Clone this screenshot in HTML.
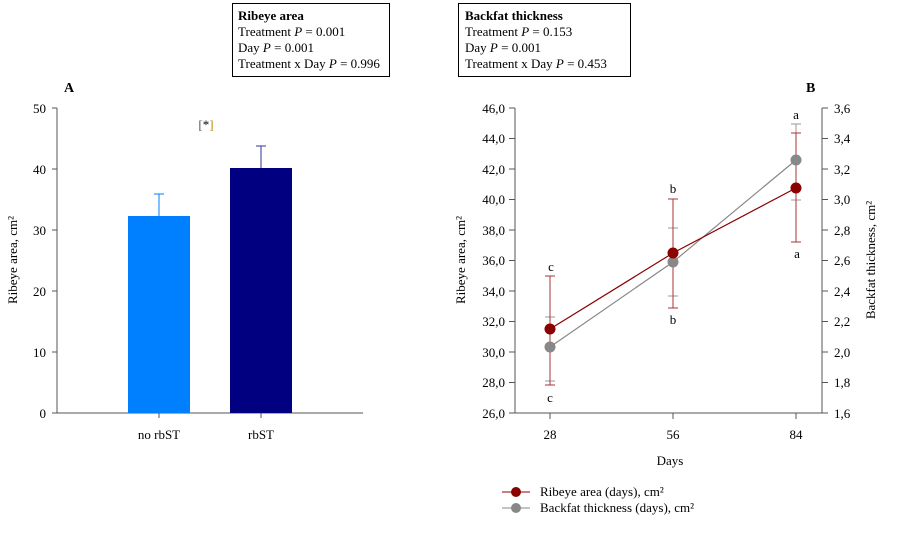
<!DOCTYPE html><html><head><style>body{margin:0;background:#fff}svg{font-family:"Liberation Serif",serif}</style></head><body>
<svg width="908" height="528" xmlns="http://www.w3.org/2000/svg">
<rect x="232.5" y="3.5" width="157" height="73" fill="#fff" stroke="#000"/>
<text x="238" y="20" font-size="13" font-weight="bold">Ribeye area</text>
<text x="238" y="36" font-size="13">Treatment <tspan font-style="italic">P</tspan> = 0.001</text>
<text x="238" y="52" font-size="13">Day <tspan font-style="italic">P</tspan> = 0.001</text>
<text x="238" y="68" font-size="13">Treatment x Day <tspan font-style="italic">P</tspan> = 0.996</text>
<rect x="458.5" y="3.5" width="172" height="73" fill="#fff" stroke="#000"/>
<text x="465" y="20" font-size="13" font-weight="bold">Backfat thickness</text>
<text x="465" y="36" font-size="13">Treatment <tspan font-style="italic">P</tspan> = 0.153</text>
<text x="465" y="52" font-size="13">Day <tspan font-style="italic">P</tspan> = 0.001</text>
<text x="465" y="68" font-size="13">Treatment x Day <tspan font-style="italic">P</tspan> = 0.453</text>
<text x="64" y="92" font-size="14" font-weight="bold">A</text>
<text x="806" y="92" font-size="14" font-weight="bold">B</text>
<!-- Chart A -->
<g stroke="#555" fill="none">
<line x1="57" y1="108" x2="57" y2="413"/><line x1="57" y1="413" x2="363" y2="413"/>
<line x1="52" y1="108" x2="57" y2="108"/><line x1="52" y1="169" x2="57" y2="169"/><line x1="52" y1="230" x2="57" y2="230"/><line x1="52" y1="291" x2="57" y2="291"/><line x1="52" y1="352" x2="57" y2="352"/><line x1="52" y1="413" x2="57" y2="413"/>
<line x1="159" y1="413" x2="159" y2="418"/><line x1="261" y1="413" x2="261" y2="418"/>
</g>
<g font-size="13" text-anchor="end"><text x="46" y="113">50</text><text x="46" y="174">40</text><text x="46" y="235">30</text><text x="46" y="296">20</text><text x="46" y="357">10</text><text x="46" y="418">0</text></g>
<text transform="translate(17,260) rotate(-90)" font-size="13" text-anchor="middle">Ribeye area, cm²</text>
<rect x="128" y="216" width="62" height="197" fill="#0080ff"/>
<rect x="230" y="168" width="62" height="245" fill="#000080"/>
<line x1="159" y1="194" x2="159" y2="216" stroke="#0080ff"/><line x1="154" y1="194" x2="164" y2="194" stroke="#0080ff"/>
<line x1="261" y1="146" x2="261" y2="168" stroke="#333399"/><line x1="256" y1="146" x2="266" y2="146" stroke="#333399"/>
<text x="206" y="129" font-size="13" text-anchor="middle" fill="#555">[<tspan fill="#000">*</tspan><tspan fill="#b8860b">]</tspan></text>
<g font-size="13" text-anchor="middle"><text x="159" y="439">no rbST</text><text x="261" y="439">rbST</text></g>
<!-- Chart B -->
<g stroke="#555" fill="none">
<line x1="515" y1="108" x2="515" y2="413"/><line x1="515" y1="413" x2="822" y2="413"/><line x1="822" y1="108" x2="822" y2="413"/>
<path d="M509 108h6M509 138.5h6M509 169h6M509 199.5h6M509 230h6M509 260.5h6M509 291h6M509 321.5h6M509 352h6M509 382.5h6M509 413h6"/>
<path d="M822 108h6M822 138.5h6M822 169h6M822 199.5h6M822 230h6M822 260.5h6M822 291h6M822 321.5h6M822 352h6M822 382.5h6M822 413h6"/>
<path d="M550 413v6M673 413v6M796 413v6"/>
</g>
<g font-size="13" text-anchor="end"><text x="505" y="113">46,0</text><text x="505" y="143">44,0</text><text x="505" y="174">42,0</text><text x="505" y="204">40,0</text><text x="505" y="235">38,0</text><text x="505" y="265">36,0</text><text x="505" y="296">34,0</text><text x="505" y="326">32,0</text><text x="505" y="357">30,0</text><text x="505" y="387">28,0</text><text x="505" y="418">26,0</text></g>
<g font-size="13"><text x="834" y="113">3,6</text><text x="834" y="143">3,4</text><text x="834" y="174">3,2</text><text x="834" y="204">3,0</text><text x="834" y="235">2,8</text><text x="834" y="265">2,6</text><text x="834" y="296">2,4</text><text x="834" y="326">2,2</text><text x="834" y="357">2,0</text><text x="834" y="387">1,8</text><text x="834" y="418">1,6</text></g>
<text transform="translate(465,260) rotate(-90)" font-size="13" text-anchor="middle">Ribeye area, cm²</text>
<text transform="translate(875,260) rotate(-90)" font-size="13" text-anchor="middle">Backfat thickness, cm²</text>
<g font-size="13" text-anchor="middle"><text x="550" y="439">28</text><text x="673" y="439">56</text><text x="796" y="439">84</text><text x="670" y="465">Days</text></g>
<g stroke="#999" fill="none"><path d="M550 317v64M545 317h10M545 381h10M673 228v68M668 228h10M668 296h10M796 124v76M791 124h10M791 200h10"/></g>
<g stroke="#a33" fill="none"><path d="M550 276v109M545 276h10M545 385h10M673 199v109M668 199h10M668 308h10M796 133v109M791 133h10M791 242h10"/></g>
<polyline points="550,347 673,262 796,160" stroke="#888" fill="none" stroke-width="1.2"/>
<polyline points="550,329 673,253 796,188" stroke="#8b0000" fill="none" stroke-width="1.2"/>
<g fill="#888"><circle cx="550" cy="347" r="5.5"/><circle cx="673" cy="262" r="5.5"/><circle cx="796" cy="160" r="5.5"/></g>
<g fill="#8b0000"><circle cx="550" cy="329" r="5.5"/><circle cx="673" cy="253" r="5.5"/><circle cx="796" cy="188" r="5.5"/></g>
<g font-size="13" text-anchor="middle"><text x="551" y="271">c</text><text x="550" y="402">c</text><text x="673" y="193">b</text><text x="673" y="324">b</text><text x="796" y="119">a</text><text x="797" y="258">a</text></g>
<line x1="502" y1="492" x2="530" y2="492" stroke="#8b0000"/><circle cx="516" cy="492" r="5" fill="#8b0000"/>
<text x="540" y="496" font-size="13">Ribeye area (days), cm²</text>
<line x1="502" y1="508" x2="530" y2="508" stroke="#888"/><circle cx="516" cy="508" r="5" fill="#888"/>
<text x="540" y="512" font-size="13">Backfat thickness (days), cm²</text>
</svg></body></html>
